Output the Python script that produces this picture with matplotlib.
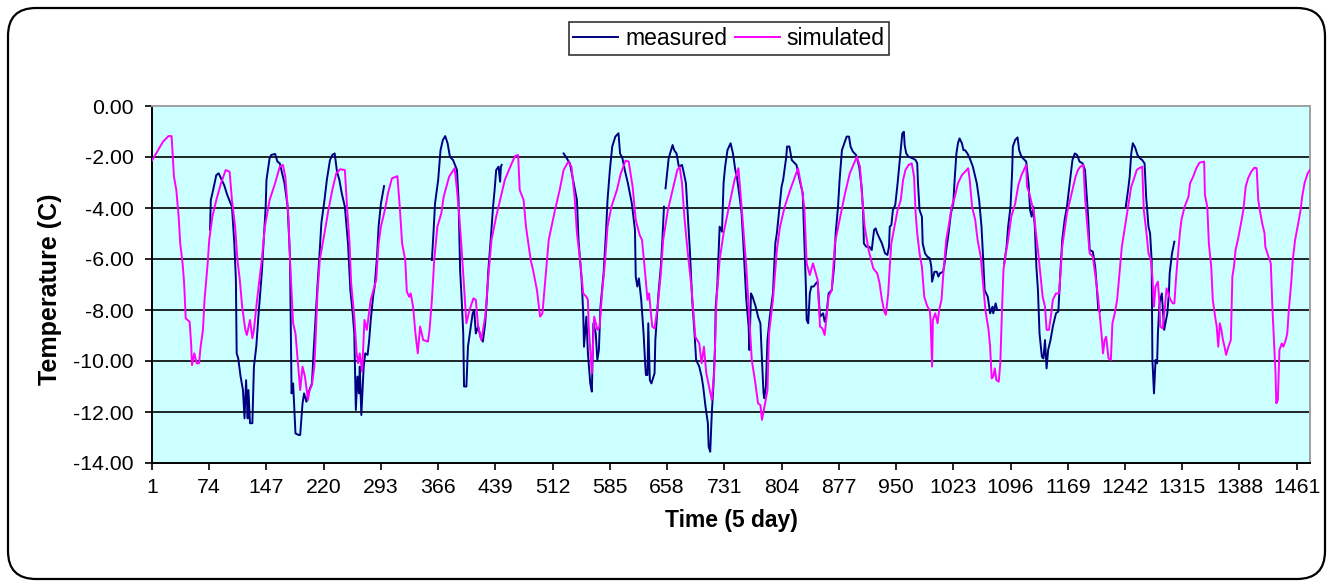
import numpy as np
import matplotlib
matplotlib.use("Agg")
import matplotlib.pyplot as plt
from matplotlib.patches import FancyBboxPatch

plt.rcParams['font.family'] = ['Liberation Sans', 'DejaVu Sans']
plt.rcParams['axes.unicode_minus'] = False

# (time index, temperature C); None marks a gap in the measured record
measured = [
    (75,-4.86),(76,-3.69),(79,-3.29),(83,-2.71),(86,-2.64),(89,-2.84),(93,-3.10),(97,-3.49),(103,-3.95),
    (106,-5.39),(108,-6.82),(109,-9.70),(111,-9.90),(114,-10.61),(117,-11.14),(119,-12.25),(121,-10.75),
    (123,-12.25),(124,-11.14),(126,-12.44),(129,-12.44),(131,-10.22),(134,-9.44),(137,-8.13),(141,-6.56),
    (144,-4.99),(146,-3.95),(147,-2.90),(151,-2.05),(153,-1.92),(158,-1.88),(161,-2.18),(164,-2.25),
    (166,-2.51),(170,-3.03),(174,-3.95),(177,-5.91),(179,-11.27),(181,-10.88),(184,-12.84),(188,-12.90),
    (190,-12.90),(193,-11.66),(195,-11.27),(198,-11.60),(201,-11.20),(205,-10.88),(207,-9.70),(209,-8.65),
    (212,-7.08),(215,-5.65),(217,-4.60),(221,-3.69),(224,-2.90),(228,-2.12),(231,-1.92),(234,-1.86),
    (237,-2.58),(240,-2.90),(243,-3.42),(247,-3.95),(251,-5.39),(254,-7.22),(257,-8.13),(259,-8.92),
    (261,-11.92),(263,-10.61),(265,-11.27),(266,-10.22),(268,-12.12),(271,-10.22),(273,-9.70),(276,-9.76),
    (278,-9.18),(280,-8.39),(283,-7.48),(285,-7.08),(288,-5.91),(290,-4.73),(293,-3.82),(295,-3.49),
    (297,-3.14),
    None,
    (358,-6.04),(360,-4.99),(362,-3.82),(366,-2.90),(369,-1.73),(372,-1.33),(375,-1.18),(378,-1.46),
    (381,-1.99),(385,-2.12),(390,-2.51),(392,-3.69),(394,-6.43),(396,-7.60),(398,-8.92),(399,-11.00),
    (402,-11.00),(404,-9.44),(407,-8.78),(410,-8.13),(412,-8.00),(414,-8.92),(417,-8.65),(420,-9.05),
    (423,-9.24),(426,-8.52),(428,-7.60),(430,-6.43),(433,-5.25),(436,-3.95),(438,-3.29),(440,-2.51),
    (443,-2.38),(445,-2.97),(446,-2.38),(447,-2.31),
    None,
    (526,-1.86),(530,-2.05),(534,-2.25),(538,-2.90),(543,-3.69),(545,-5.25),(549,-6.82),(551,-8.13),
    (552,-9.44),(555,-8.26),(557,-9.70),(560,-10.88),(562,-11.20),(564,-8.52),(567,-8.92),(569,-9.96),
    (571,-9.57),(573,-7.87),(577,-6.56),(580,-4.99),(582,-3.69),(585,-2.51),(588,-1.59),(592,-1.20),
    (596,-1.07),(598,-1.86),(601,-2.05),(604,-2.51),(608,-3.03),(613,-3.82),(617,-4.86),(618,-6.69),
    (620,-7.08),(622,-6.76),(625,-7.60),(628,-8.92),(630,-10.09),(631,-10.55),(633,-10.55),(634,-8.52),
    (636,-10.75),(638,-10.88),(642,-10.48),(643,-9.18),(647,-7.35),(650,-6.30),(652,-5.25),(654,-3.95),
    None,
    (656,-3.23),(660,-2.05),(663,-1.73),(665,-1.53),(667,-1.73),(670,-1.86),(673,-2.38),(677,-2.31),
    (679,-2.58),(682,-3.03),(685,-4.60),(687,-5.65),(690,-7.60),(693,-8.92),(695,-9.96),(697,-10.09),
    (699,-10.22),(702,-10.61),(704,-11.00),(707,-11.79),(710,-12.44),(711,-13.36),(713,-13.56),(715,-12.05),
    (717,-11.00),(719,-9.57),(720,-7.87),(722,-7.08),(725,-4.73),(728,-4.93),(730,-3.03),(732,-2.38),
    (735,-1.73),(739,-1.46),(742,-1.86),(745,-2.51),(747,-2.77),(751,-3.69),(753,-4.21),(755,-5.25),
    (757,-6.43),(759,-7.60),(762,-8.65),(763,-9.57),(765,-7.35),(767,-7.48),(771,-7.87),(774,-8.26),
    (777,-8.52),(779,-9.96),(781,-11.27),(782,-11.46),(784,-11.00),(786,-9.18),(789,-8.26),(793,-7.35),
    (796,-5.39),(798,-4.99),(801,-4.08),(804,-3.16),(806,-2.90),(810,-1.99),(811,-1.59),(814,-1.59),
    (817,-2.12),(823,-2.31),(827,-2.90),(831,-3.42),(833,-5.25),(835,-7.08),(836,-8.39),(838,-8.52),
    (840,-7.35),(842,-7.08),(845,-7.08),(848,-6.95),(850,-6.89),(851,-7.35),(853,-8.26),(857,-8.13),
    (859,-8.46),(861,-8.26),(864,-7.35),(868,-7.22),(871,-6.30),(873,-4.99),(876,-3.95),(878,-2.90),
    (881,-1.73),(884,-1.46),(887,-1.20),(890,-1.20),(892,-1.59),(895,-1.79),(899,-1.92),(903,-2.38),
    (906,-3.16),(908,-4.08),(909,-5.39),(912,-5.52),(916,-5.52),(919,-5.65),(922,-4.86),(924,-4.80),
    (926,-4.99),(929,-5.19),(932,-5.39),(936,-5.78),(939,-5.84),(941,-5.52),(942,-4.73),(944,-4.67),
    (946,-4.08),(949,-3.88),(952,-3.03),(954,-2.38),(956,-1.73),(958,-1.07),(960,-1.01),(961,-1.53),
    (963,-1.86),(966,-1.99),(971,-2.05),(975,-2.12),(977,-2.25),(978,-3.03),(980,-4.08),(983,-4.34),
    (984,-5.39),(987,-5.78),(990,-5.91),(993,-5.97),(995,-6.30),(996,-6.89),(999,-6.50),(1002,-6.50),
    (1004,-6.69),(1006,-6.56),(1010,-6.50),(1012,-6.17),(1014,-5.65),(1017,-4.99),(1020,-4.21),(1023,-3.82),
    (1025,-2.77),(1027,-1.86),(1029,-1.46),(1031,-1.27),(1034,-1.46),(1036,-1.73),(1038,-1.73),(1041,-1.86),
    (1044,-2.05),(1048,-2.38),(1053,-3.03),(1056,-3.69),(1059,-4.73),(1061,-5.91),(1063,-7.22),(1067,-7.48),
    (1070,-8.13),(1073,-7.87),(1074,-8.13),(1077,-7.74),(1079,-8.00),(1082,-8.00),
    None,
    (1088,-6.17),(1091,-5.52),(1093,-4.73),(1096,-3.95),(1098,-2.64),(1099,-1.59),(1102,-1.33),(1105,-1.23),
    (1107,-1.73),(1110,-1.99),(1116,-2.18),(1119,-3.03),(1121,-4.08),(1123,-4.34),(1125,-3.95),(1127,-4.73),
    (1129,-6.30),(1131,-7.22),(1133,-8.92),(1136,-9.83),(1138,-9.90),(1140,-9.18),(1142,-10.29),(1144,-9.57),
    (1147,-9.18),(1150,-8.65),(1154,-8.13),(1157,-8.06),(1158,-7.48),(1160,-6.30),(1162,-5.25),(1165,-4.47),
    (1168,-3.95),(1171,-3.16),(1173,-2.64),(1175,-2.12),(1178,-1.86),(1181,-1.92),(1184,-2.18),(1188,-2.25),
    (1191,-2.51),(1193,-3.42),(1195,-4.34),(1197,-5.65),(1201,-5.71),(1204,-6.30),(1206,-7.08),(1208,-8.00),
    (1210,-8.06),
    None,
    (1243,-3.95),(1246,-3.29),(1248,-2.77),(1250,-1.86),(1252,-1.46),(1255,-1.63),(1258,-1.92),(1261,-2.05),
    (1264,-2.12),(1267,-2.25),(1269,-3.56),(1272,-4.73),(1274,-4.99),(1276,-6.04),(1277,-9.96),(1279,-11.27),
    (1281,-9.96),(1283,-10.09),(1284,-8.92),(1286,-7.74),(1289,-7.35),(1292,-8.78),(1296,-8.13),(1298,-7.35),
    (1299,-6.56),(1301,-6.04),(1302,-5.78),(1305,-5.32),
]

simulated = [
    (1,-2.14),(15,-1.40),(22,-1.18),(26,-1.18),(29,-2.77),(32,-3.29),(35,-4.34),(37,-5.39),(40,-6.17),
    (42,-6.95),(44,-8.33),(49,-8.46),(51,-9.37),(52,-10.16),(55,-9.70),(58,-10.09),(61,-10.09),(63,-9.44),
    (66,-8.78),(68,-7.60),(72,-6.17),(74,-5.25),(78,-4.34),(83,-3.69),(89,-3.03),(95,-2.51),(100,-2.58),
    (103,-3.69),(107,-4.73),(110,-6.04),(113,-6.82),(116,-7.87),(120,-8.78),(122,-8.98),(126,-8.39),
    (129,-9.11),(131,-8.78),(135,-7.60),(141,-6.04),(145,-4.73),(151,-3.69),(158,-3.03),(164,-2.38),
    (168,-2.31),(171,-2.77),(175,-4.34),(177,-6.04),(181,-8.52),(184,-8.92),(190,-11.14),(193,-10.22),
    (196,-10.60),(200,-11.53),(202,-11.14),(205,-10.94),(208,-10.22),(210,-8.92),(212,-7.35),(215,-6.04),
    (221,-4.99),(226,-4.08),(231,-3.29),(236,-2.64),(241,-2.48),(247,-2.51),(250,-4.08),(253,-5.39),
    (255,-6.95),(259,-8.26),(262,-9.70),(264,-10.09),(266,-9.70),(269,-10.42),(272,-8.39),(275,-8.78),
    (280,-7.60),(287,-6.82),(290,-5.39),(293,-4.73),(298,-4.08),(302,-3.42),(307,-2.84),(314,-2.75),
    (317,-3.95),(320,-5.39),(324,-6.04),(326,-7.28),(329,-7.48),(331,-7.35),(334,-7.87),(337,-8.92),
    (340,-9.70),(343,-8.65),(347,-9.18),(353,-9.24),(355,-8.78),(358,-7.60),(361,-6.04),(365,-4.73),
    (370,-4.21),(373,-3.56),(380,-2.77),(387,-2.44),(390,-3.29),(393,-4.34),(396,-5.65),(399,-7.08),
    (402,-8.52),(406,-8.00),(411,-7.54),(414,-7.60),(417,-8.65),(421,-9.18),(426,-8.26),(430,-6.69),
    (434,-5.25),(440,-4.34),(445,-3.69),(451,-2.90),(458,-2.38),(464,-1.96),(468,-1.92),(470,-3.29),
    (475,-3.69),(478,-4.73),(481,-5.39),(484,-6.04),(487,-6.43),(492,-7.22),(496,-8.26),(499,-8.13),
    (504,-6.30),(507,-5.25),(515,-4.08),(521,-3.29),(526,-2.51),(532,-2.18),(536,-2.38),(540,-3.56),
    (543,-4.99),(547,-6.04),(551,-7.35),(555,-7.48),(557,-7.60),(558,-8.65),(562,-10.48),(565,-8.26),
    (569,-8.78),(572,-8.65),(575,-7.35),(579,-6.04),(582,-4.73),(587,-3.95),(594,-3.29),(599,-2.64),
    (605,-2.14),(609,-2.18),(614,-3.16),(618,-4.47),(623,-5.06),(626,-5.25),(630,-6.56),(633,-7.60),
    (635,-7.35),(639,-8.65),(642,-8.72),(646,-7.87),(650,-6.56),(653,-5.25),(659,-4.08),(665,-3.29),
    (671,-2.51),(674,-2.38),(677,-3.03),(680,-4.34),(684,-5.65),(689,-7.08),(694,-9.05),(699,-9.31),
    (702,-10.09),(705,-9.44),(708,-10.48),(715,-11.53),(718,-10.48),(721,-7.60),(725,-6.04),(730,-5.00),
    (736,-4.08),(744,-2.90),(749,-2.44),(753,-3.95),(759,-6.30),(762,-7.87),(766,-9.96),(770,-10.75),
    (774,-11.66),(777,-11.73),(779,-12.31),(783,-11.66),(786,-11.14),(788,-8.92),(793,-7.60),(798,-5.65),
    (802,-4.73),(808,-3.95),(815,-3.29),(825,-2.44),(830,-3.29),(833,-3.95),(836,-6.17),(840,-6.63),
    (844,-6.17),(850,-6.82),(853,-8.65),(856,-8.72),(859,-8.98),(864,-7.48),(868,-7.22),(872,-5.39),
    (878,-4.47),(885,-3.42),(891,-2.64),(900,-1.99),(904,-2.38),(907,-3.69),(910,-4.73),(915,-5.65),
    (921,-6.37),(926,-6.56),(929,-6.95),(932,-7.60),(935,-8.06),(937,-8.19),(940,-7.35),(942,-6.30),
    (944,-5.39),(948,-4.73),(952,-4.08),(956,-3.69),(959,-2.90),(962,-2.51),(966,-2.31),(970,-2.25),
    (973,-2.77),(975,-4.21),(977,-4.99),(980,-5.78),(983,-6.30),(986,-7.48),(990,-7.87),(993,-8.00),
    (994,-8.39),(996,-10.22),(997,-8.39),(1000,-8.13),(1003,-8.52),(1005,-8.00),(1008,-7.60),(1011,-6.30),
    (1014,-5.25),(1017,-4.73),(1021,-3.95),(1025,-3.56),(1029,-3.03),(1034,-2.71),(1038,-2.58),(1042,-2.44),
    (1044,-2.90),(1047,-3.95),(1051,-4.47),(1054,-5.25),(1058,-5.91),(1061,-6.95),(1064,-8.00),(1068,-8.78),
    (1070,-9.44),(1072,-10.68),(1074,-10.61),(1076,-10.29),(1078,-10.75),(1081,-10.81),(1083,-10.09),
    (1085,-8.13),(1087,-6.43),(1090,-5.78),(1093,-5.25),(1097,-4.34),(1102,-3.82),(1106,-3.10),(1110,-2.71),
    (1116,-2.31),(1117,-3.16),(1120,-3.42),(1123,-3.82),(1126,-4.21),(1128,-4.86),(1131,-5.65),(1134,-6.56),
    (1137,-7.48),(1140,-7.87),(1142,-8.78),(1145,-8.78),(1148,-8.13),(1150,-7.60),(1154,-7.35),(1158,-7.35),
    (1160,-6.43),(1162,-5.52),(1165,-4.86),(1168,-4.21),(1172,-3.69),(1176,-3.16),(1179,-2.77),(1182,-2.51),
    (1185,-2.38),(1189,-2.31),(1191,-3.56),(1193,-4.34),(1197,-5.78),(1201,-5.91),(1205,-6.82),(1208,-7.60),
    (1210,-8.26),(1212,-8.92),(1214,-9.70),(1216,-9.18),(1218,-9.05),(1221,-9.90),(1224,-9.96),(1226,-8.52),
    (1229,-8.13),(1232,-7.60),(1235,-6.56),(1238,-5.52),(1242,-4.73),(1246,-3.95),(1250,-3.16),(1253,-2.90),
    (1257,-2.51),(1260,-2.44),(1264,-2.38),(1266,-4.08),(1269,-4.86),(1272,-5.78),(1275,-6.04),(1277,-6.69),
    (1279,-7.87),(1281,-7.08),(1284,-6.89),(1286,-7.74),(1287,-8.65),(1290,-8.72),(1293,-7.87),(1295,-7.15),
    (1300,-7.60),(1303,-7.74),(1305,-7.74),(1307,-6.82),(1309,-6.04),(1312,-4.99),(1314,-4.47),(1318,-3.95),
    (1323,-3.56),(1325,-3.03),(1329,-2.77),(1333,-2.44),(1337,-2.22),(1343,-2.18),(1344,-3.49),(1347,-3.95),
    (1349,-5.39),(1352,-6.30),(1354,-7.60),(1357,-8.26),(1359,-8.65),(1361,-9.44),(1363,-8.52),(1365,-8.78),
    (1367,-9.18),(1369,-9.44),(1371,-9.76),(1374,-9.44),(1377,-9.18),(1379,-6.69),(1381,-6.30),(1383,-5.65),
    (1386,-5.25),(1390,-4.60),(1393,-4.08),(1396,-3.16),(1399,-2.84),(1403,-2.58),(1407,-2.42),(1410,-2.44),
    (1412,-3.69),(1414,-4.08),(1417,-4.60),(1420,-4.99),(1421,-5.52),(1425,-5.91),(1428,-6.17),(1430,-7.87),
    (1432,-9.18),(1434,-10.48),(1435,-11.66),(1437,-11.53),(1439,-9.57),(1442,-9.31),(1444,-9.44),
    (1447,-9.18),(1449,-8.92),(1451,-8.00),(1454,-6.95),(1456,-6.04),(1459,-5.25),(1463,-4.60),(1466,-4.08),
    (1468,-3.56),(1471,-3.03),(1475,-2.64),(1478,-2.51),
]

x_tick_values = list(range(1, 1462, 73))
y_tick_values = [0, -2, -4, -6, -8, -10, -12, -14]
series_names = ["measured", "simulated"]
series_colors = ["#000080", "#FF00FF"]


def to_arrays(pairs):
    t = np.array([np.nan if p is None else p[0] for p in pairs], dtype=float)
    v = np.array([np.nan if p is None else p[1] for p in pairs], dtype=float)
    return t, v


W, H = 1332, 586
fig = plt.figure(figsize=(W / 100, H / 100), dpi=100)
fig.patch.set_facecolor("white")

# outer rounded frame
frame = FancyBboxPatch((0.08, 0.07), 13.17, 5.71,
                       boxstyle="round,pad=0,rounding_size=0.28",
                       transform=fig.dpi_scale_trans, fill=False,
                       edgecolor="black", linewidth=1.6)
fig.add_artist(frame)

ax = fig.add_axes([152 / W, 1 - 463 / H, 1158 / W, 357 / H])
ax.set_facecolor("#CCFFFF")

for yv in y_tick_values[1:-1]:
    ax.axhline(yv, color="black", linewidth=1.2, zorder=1)

mt, mv = to_arrays(measured)
st, sv = to_arrays(simulated)
ax.plot(mt, mv, color=series_colors[0], linewidth=1.4, label=series_names[0], zorder=3)
ax.plot(st, sv, color=series_colors[1], linewidth=1.4, label=series_names[1], zorder=4)

ax.set_xlim(1, 1478)
ax.set_ylim(-14, 0)
ax.set_xticks(x_tick_values)
ax.set_xticklabels([str(x) for x in x_tick_values])
ax.set_yticks(y_tick_values)
ax.set_yticklabels([f"{y:.2f}" for y in y_tick_values])
ax.tick_params(axis="both", direction="out", length=5, width=1.2, labelsize=15.3, colors="black")
ax.tick_params(axis="y", pad=8)
ax.tick_params(axis="x", pad=6)

for side in ("left", "bottom"):
    ax.spines[side].set_color("black")
    ax.spines[side].set_linewidth(1.4)
for side in ("top", "right"):
    ax.spines[side].set_color("#A0A0A0")
    ax.spines[side].set_linewidth(1.4)

fig.text(50 / W, 1 - 289 / H, "Temperature (C)", rotation=90, ha="center", va="center",
         fontsize=18, fontweight="bold")
fig.text(731 / W, 1 - 521 / H, "Time (5 day)", ha="center", va="center",
         fontsize=16.5, fontweight="bold")

leg = fig.legend(loc="center", bbox_to_anchor=(729 / W, 1 - 38.5 / H), ncol=2,
                 fontsize=16.5, frameon=True, fancybox=False, shadow=False,
                 handlelength=1.95, handletextpad=0.3, columnspacing=0.35,
                 borderpad=0.2, borderaxespad=0)
leg.get_frame().set_edgecolor("black")
leg.get_frame().set_linewidth(1.2)

fig.savefig("out.png", dpi=100)
